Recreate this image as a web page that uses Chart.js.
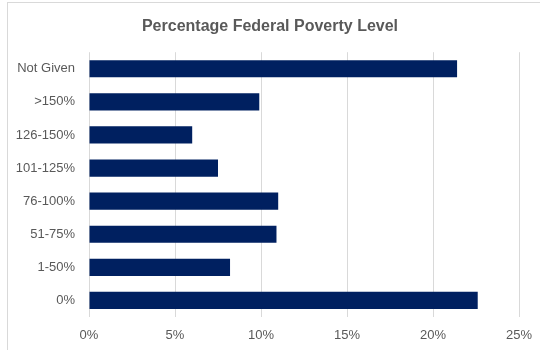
<!DOCTYPE html>
<html>
<head>
<meta charset="utf-8">
<script src="https://cdn.jsdelivr.net/npm/chart.js@4"></script>
<style>
  body { margin: 0; background: #fff; }
  #wrap { position: relative; width: 540px; height: 350px; overflow: hidden; }
  #frame { position: absolute; left: 7px; top: 2px; width: 600px; height: 400px; border: 1px solid #d9d9d9; box-sizing: border-box; }
  #chart { position: absolute; left: 0; top: 0; }
</style>
</head>
<body>
<div id="wrap">
  <div id="frame"></div>
  <canvas id="chart" width="540" height="350"></canvas>
</div>
<script>
// categorias (de arriba a abajo) y porcentajes
const categories = ["Not Given", ">150%", "126-150%", "101-125%", "76-100%", "51-75%", "1-50%", "0%"];
const percentages = [21.4, 9.9, 6.0, 7.5, 11.0, 10.9, 8.2, 22.6];
const xTicks = [0, 5, 10, 15, 20, 25];

const textColor = '#595959';
const fontFamily = '"Liberation Sans", Arial, sans-serif';

const ctx = document.getElementById('chart').getContext('2d');
new Chart(ctx, {
    type: 'bar',
    data: {
        labels: categories,
        datasets: [{
            data: percentages,
            backgroundColor: '#002060',
            borderWidth: 0,
            barPercentage: 0.52,
            categoryPercentage: 1.0
        }]
    },
    options: {
        indexAxis: 'y',
        responsive: false,
        animation: false,
        layout: { padding: 0 },
        plugins: {
            legend: { display: false },
            tooltip: { enabled: false },
            title: {
                display: true,
                text: 'Percentage Federal Poverty Level',
                color: textColor,
                font: { family: fontFamily, size: 16, weight: 'bold' },
                padding: { top: 17, bottom: 16 }
            }
        },
        scales: {
            x: {
                min: xTicks[0],
                max: xTicks[xTicks.length - 1],
                afterBuildTicks: axis => { axis.ticks = xTicks.map(v => ({ value: v })); },
                afterFit: axis => {
                    axis.height = 33;
                    axis.paddingLeft = 0;
                    axis.paddingRight = 21;
                },
                grid: { color: '#d9d9d9', lineWidth: 1, drawTicks: false },
                border: { display: false },
                ticks: {
                    color: textColor,
                    padding: 11,
                    font: { family: fontFamily, size: 13 },
                    callback: v => v + '%'
                }
            },
            y: {
                afterFit: axis => { axis.width = 89; },
                grid: { display: false, drawTicks: false },
                border: { display: false },
                ticks: {
                    color: textColor,
                    padding: 14,
                    font: { family: fontFamily, size: 13 }
                }
            }
        }
    }
});
</script>
</body>
</html>
